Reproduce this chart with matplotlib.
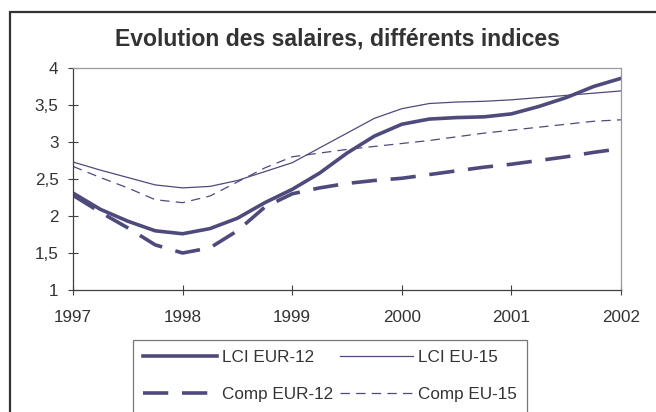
import matplotlib.pyplot as plt
from matplotlib.patches import Rectangle

plt.rcParams['font.family'] = ['Liberation Sans', 'DejaVu Sans']

# quarterly points, 1997 -> 2002
quarters = [1997.0, 1997.25, 1997.5, 1997.75,
            1998.0, 1998.25, 1998.5, 1998.75,
            1999.0, 1999.25, 1999.5, 1999.75,
            2000.0, 2000.25, 2000.5, 2000.75,
            2001.0, 2001.25, 2001.5, 2001.75,
            2002.0]

lci_eur12 = [2.31, 2.09, 1.93, 1.80, 1.76, 1.83, 1.97, 2.18, 2.36, 2.58, 2.85,
             3.08, 3.24, 3.31, 3.33, 3.34, 3.38, 3.48, 3.60, 3.75, 3.86]
lci_eu15 = [2.73, 2.62, 2.52, 2.42, 2.38, 2.40, 2.48, 2.60, 2.72, 2.92, 3.12,
            3.32, 3.45, 3.52, 3.54, 3.55, 3.57, 3.60, 3.63, 3.66, 3.69]
comp_eur12 = [2.28, 2.05, 1.84, 1.61, 1.50, 1.57, 1.80, 2.12, 2.30, 2.38, 2.44,
              2.48, 2.51, 2.56, 2.61, 2.66, 2.70, 2.75, 2.80, 2.86, 2.91]
comp_eu15 = [2.67, 2.52, 2.38, 2.22, 2.18, 2.27, 2.46, 2.65, 2.80, 2.85, 2.90,
             2.94, 2.98, 3.02, 3.07, 3.12, 3.16, 3.20, 3.24, 3.28, 3.30]

years = [1997, 1998, 1999, 2000, 2001, 2002]
yticks = [1, 1.5, 2, 2.5, 3, 3.5, 4]
ytick_labels = ['1', '1,5', '2', '2,5', '3', '3,5', '4']

col = '#4f4a7c'
txt = '#333333'

fig = plt.figure(figsize=(6.56, 4.12), dpi=100)
W, H = 656, 412
ax = fig.add_axes([73 / W, 1 - 290 / H, (621 - 73) / W, (290 - 68) / H])

l1, = ax.plot(quarters, lci_eur12, color=col, lw=2.6, label='LCI EUR-12')
l2, = ax.plot(quarters, lci_eu15, color=col, lw=0.9, label='LCI EU-15')
l3, = ax.plot(quarters, comp_eur12, color=col, lw=2.6, dashes=(7, 3.8), label='Comp EUR-12')
l4, = ax.plot(quarters, comp_eu15, color=col, lw=0.9, dashes=(7.5, 5), label='Comp EU-15')

ax.set_xlim(1997, 2002)
ax.set_ylim(1, 4)
ax.set_xticks(years)
ax.set_xticklabels([str(y) for y in years])
ax.set_yticks(yticks)
ax.set_yticklabels(ytick_labels)
ax.tick_params(direction='inout', length=7, width=0.8, colors='#404040',
               labelsize=12.3, labelcolor=txt)
ax.tick_params(axis='x', pad=11)
ax.tick_params(axis='y', pad=7)
for s in ['left', 'bottom']:
    ax.spines[s].set_color('#404040')
    ax.spines[s].set_linewidth(0.9)
for s in ['top', 'right']:
    ax.spines[s].set_color('#a09898')
    ax.spines[s].set_linewidth(0.9)

fig.text(337 / W, 1 - 39 / H, 'Evolution des salaires, différents indices',
         ha='center', va='center', fontsize=16.6, fontweight='bold', color=txt)

# column-first fill, so order the handles to get LCI on the first row
leg = fig.legend([l1, l3, l2, l4], [l.get_label() for l in (l1, l3, l2, l4)],
                 loc='upper left', bbox_to_anchor=(133 / W, 1 - 340 / H),
                 ncol=2, fontsize=12.3, frameon=True, fancybox=False,
                 handlelength=4.3, handletextpad=0.3, columnspacing=0.4,
                 labelspacing=1.3, borderpad=0.6, borderaxespad=0)
leg.get_frame().set_edgecolor('#555555')
leg.get_frame().set_linewidth(0.9)
for t in leg.get_texts():
    t.set_color(txt)

# outer chart frame
fig.patches.append(Rectangle((10 / W, -0.1), 1.2, 1.1 - 12 / H,
                             transform=fig.transFigure, fill=False,
                             ec='#333333', lw=1.6))

fig.savefig('out.png', dpi=100)
